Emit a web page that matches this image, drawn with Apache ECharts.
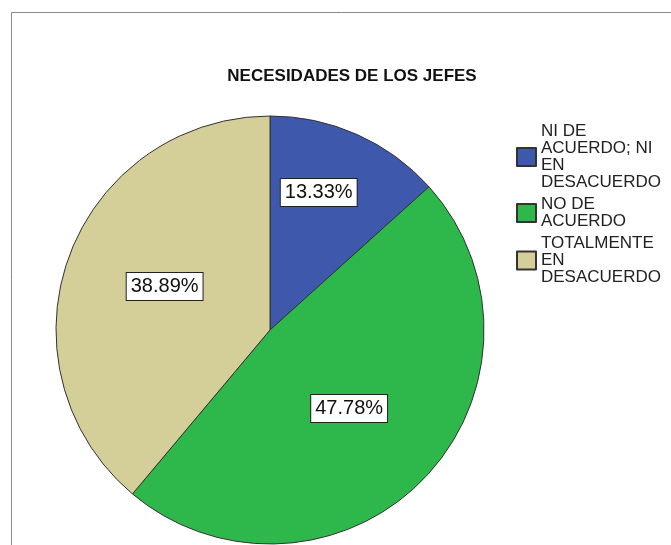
<!DOCTYPE html>
<html>
<head>
<meta charset="utf-8">
<style>
  html, body { margin: 0; padding: 0; background: #ffffff; }
  #chart { width: 671px; height: 545px; }
</style>
<script src="https://cdn.jsdelivr.net/npm/echarts@6/dist/echarts.min.js"></script>
</head>
<body>
<div id="chart"></div>
<script>
// Response categories, clockwise from 12 o'clock
const categories = [
  'NI DE ACUERDO; NI EN DESACUERDO',
  'NO DE ACUERDO',
  'TOTALMENTE EN DESACUERDO'
];
// Wrapped versions of the category names for the legend
const legendLines = [
  'NI DE\nACUERDO; NI\nEN\nDESACUERDO',
  'NO DE\nACUERDO',
  'TOTALMENTE\nEN\nDESACUERDO'
];
// Share of responses, in percent
const percents = [13.33, 47.78, 38.89];
const sliceColors = ['#3e58ac', '#2eb84b', '#d4cf99'];
// Nudges of each percentage box away from the slice midpoint
const labelShift = [[4, -37], [0, 2], [-2, -6]];

const FONT = '"Liberation Sans", Arial, Helvetica, sans-serif';

const chart = echarts.init(document.getElementById('chart'), null, { renderer: 'canvas' });

chart.setOption({
  backgroundColor: '#ffffff',
  animation: false,
  title: {
    text: 'NECESIDADES DE LOS JEFES',
    left: 347,
    top: 63,
    textAlign: 'center',
    textStyle: { fontFamily: FONT, fontSize: 17, fontWeight: 'bold', color: '#111111' }
  },
  graphic: [{
    type: 'rect',
    shape: { x: 11.5, y: 12.5, width: 800, height: 700 },
    style: { fill: 'none', stroke: '#8a8a8a', lineWidth: 1 },
    silent: true
  }],
  legend: {
    orient: 'vertical',
    left: 516,
    top: 123,
    padding: 0,
    itemWidth: 19,
    itemHeight: 18,
    itemGap: 5,
    icon: 'rect',
    data: categories,
    formatter: function (name) {
      return legendLines[categories.indexOf(name)];
    },
    textStyle: { fontFamily: FONT, fontSize: 17, lineHeight: 17, color: '#222222' }
  },
  series: [{
    type: 'pie',
    center: [270, 330],
    radius: 214,
    startAngle: 90,
    clockwise: true,
    data: categories.map(function (c, i) {
      return { name: c, value: percents[i], itemStyle: { color: sliceColors[i] } };
    }),
    itemStyle: { borderColor: '#333333', borderWidth: 1 },
    label: {
      show: true,
      position: 'inside',
      formatter: function (p) { return p.value.toFixed(2) + '%'; },
      fontFamily: FONT,
      fontSize: 20,
      lineHeight: 20,
      color: '#111111',
      backgroundColor: '#ffffff',
      borderColor: '#222222',
      borderWidth: 1,
      padding: [4, 4, 3, 4]
    },
    labelLayout: function (params) {
      const s = labelShift[params.dataIndex];
      return { dx: s[0], dy: s[1] };
    },
    emphasis: { disabled: true }
  }]
});
</script>
</body>
</html>
